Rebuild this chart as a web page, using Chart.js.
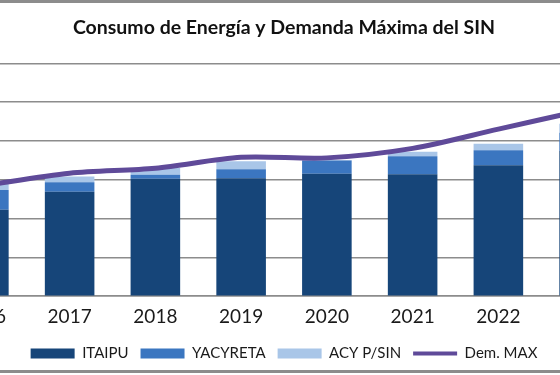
<!DOCTYPE html>
<html>
<head>
<meta charset="utf-8">
<script src="https://cdn.jsdelivr.net/npm/chart.js@4"></script>
<style>
  html, body { margin: 0; padding: 0; background: #fff; }
  #frame { position: relative; width: 560px; height: 375px; overflow: hidden; background: #fff; }
  #box { position: absolute; left: -59px; top: 0; width: 686px; height: 375px; }
  .rule { position: absolute; left: 0; width: 560px; height: 3px; background: #8c8c8c; }
</style>
</head>
<body>
<div id="frame">
  <div id="box"><canvas id="chart"></canvas></div>
  <div class="rule" style="top:0"></div>
  <div class="rule" style="top:370px"></div>
</div>
<script>
// Consumo de energía por fuente (barras apiladas) y demanda máxima (línea)
const years = ['2016', '2017', '2018', '2019', '2020', '2021', '2022', '2023'];
const itaipu = [2230, 2695, 3026, 3040, 3157, 3146, 3373, 3740];
const yacyreta = [510, 243, 104, 235, 340, 462, 387, 470];
const acySin = [150, 148, 173, 200, 15, 112, 166, 235];
const demMax = [2850, 3170, 3300, 3580, 3565, 3810, 4305, 4800];

const FONT = 'Lato, "Open Sans", sans-serif';
const GRID = '#8c8c8c';

const barDs = (label, data, color) => ({
    type: 'bar',
    label,
    data,
    backgroundColor: color,
    borderWidth: 0,
    categoryPercentage: 1,
    barPercentage: 0.578,
    yAxisID: 'y'
});

const ctx = document.getElementById('chart').getContext('2d');
new Chart(ctx, {
    data: {
        labels: years,
        datasets: [
            barDs('ITAIPU', itaipu, '#164579'),
            barDs('YACYRETA', yacyreta, '#3b76c0'),
            barDs('ACY P/SIN', acySin, '#a9c6e8'),
            {
                type: 'line',
                label: 'Dem. MAX',
                data: demMax,
                borderColor: '#5f4a99',
                backgroundColor: '#5f4a99',
                borderWidth: 5,
                pointRadius: 0,
                tension: 0.3,
                order: -1,
                yAxisID: 'y2'
            }
        ]
    },
    options: {
        responsive: true,
        maintainAspectRatio: false,
        animation: false,
        layout: { padding: { left: 0, right: 0, top: 0, bottom: 4 } },
        scales: {
            x: {
                stacked: true,
                grid: { display: false },
                border: { color: GRID, width: 1.5 },
                ticks: {
                    color: '#1a1a1a',
                    font: { family: FONT, size: 19 },
                    padding: 1,
                    maxRotation: 0,
                    autoSkip: false
                },
                // keep extra room between the year labels and the legend
                afterFit: (scale) => { scale.height += 5; }
            },
            y: {
                stacked: true,
                min: 0,
                max: 6000,
                ticks: { display: false, stepSize: 1000 },
                border: { display: false },
                grid: { color: GRID, lineWidth: 1.5, drawTicks: false }
            },
            y2: {
                display: false,
                min: 0,
                max: 6000
            }
        },
        plugins: {
            title: {
                display: true,
                text: 'Consumo de Energía y Demanda Máxima del SIN',
                color: '#111',
                font: { family: FONT, size: 19.5, weight: 'bold' },
                padding: { top: 16, bottom: 24 }
            },
            legend: {
                position: 'bottom',
                labels: {
                    usePointStyle: true,
                    pointStyleWidth: 44,
                    boxHeight: 10,
                    padding: 12,
                    color: '#1a1a1a',
                    font: { family: FONT, size: 15 },
                    generateLabels: (chart) => chart.data.datasets.map((ds, i) => ({
                        text: ds.label,
                        fillStyle: ds.type === 'line' ? ds.borderColor : ds.backgroundColor,
                        strokeStyle: ds.type === 'line' ? ds.borderColor : ds.backgroundColor,
                        lineWidth: ds.type === 'line' ? 4 : 0,
                        pointStyle: ds.type === 'line' ? 'line' : 'rect',
                        hidden: false,
                        datasetIndex: i,
                        fontColor: '#1a1a1a'
                    }))
                }
            },
            tooltip: { enabled: false }
        }
    }
});
</script>
</body>
</html>
